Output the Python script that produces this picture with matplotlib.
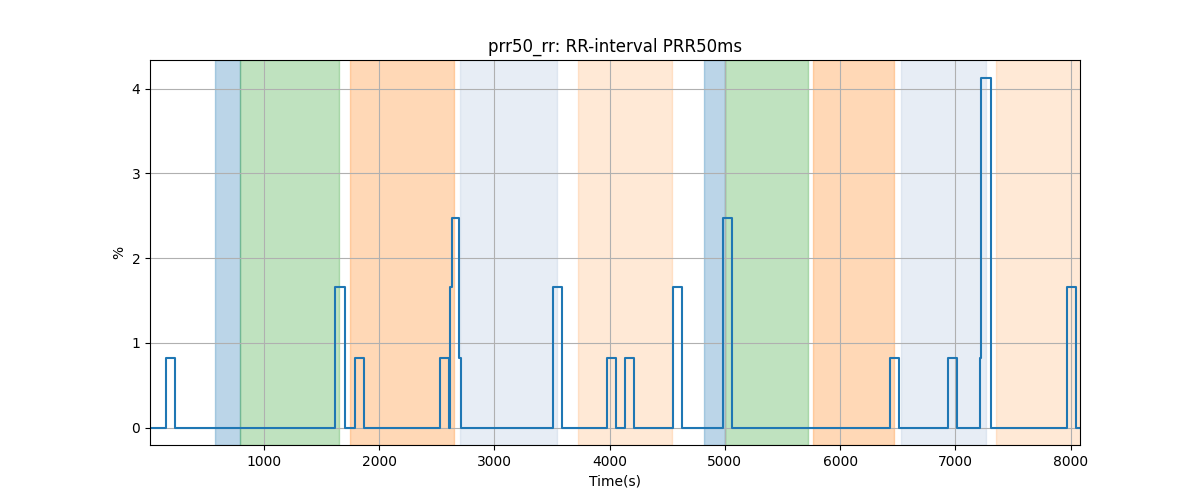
import matplotlib
matplotlib.use("Agg")
import matplotlib.pyplot as plt

# Step breakpoints (time in s) and PRR50 values (%)
times = [10, 145, 223, 1617, 1699, 1786, 1864, 2530, 2603, 2615, 2632, 2690, 2713,
         3507, 3583, 3980, 4055, 4133, 4209, 4548, 4626, 4986, 5064, 6429, 6507,
         6939, 7017, 7217, 7226, 7307, 7313, 7971, 8049, 8082]
values = [0, 0.826, 0, 1.653, 0, 0.826, 0, 0.826, 0, 1.653, 2.479, 0.826, 0,
          1.653, 0, 0.826, 0, 0.826, 0, 1.653, 0, 2.479, 0, 0.826, 0,
          0.826, 0, 0.826, 4.132, 3.306, 0, 1.653, 0, 0]

# Shaded phases: (start, end, colour, alpha)
span_starts = [577, 794, 1748, 2704, 3725, 4817, 5003, 5765, 6530, 7357]
span_ends = [794, 1649, 2652, 3545, 4539, 5003, 5719, 6470, 7270, 8100]
span_colors = ["C0", "C2", "C1", "lightsteelblue", "C1", "C0", "C2", "C1", "lightsteelblue", "C1"]
span_alphas = [0.3, 0.3, 0.3, 0.3, 0.17, 0.3, 0.3, 0.3, 0.3, 0.17]

fig, ax = plt.subplots(figsize=(12, 5), dpi=100)
for s, e, c, a in zip(span_starts, span_ends, span_colors, span_alphas):
    ax.axvspan(s, e, color=c, alpha=a)
ax.step(times, values, where="post", color="C0", lw=1.5)
ax.set_xlim(10, 8082)
ax.set_title("prr50_rr: RR-interval PRR50ms")
ax.set_xlabel("Time(s)")
ax.set_ylabel("%")
ax.grid(True)
fig.savefig("out.png", dpi=100)
